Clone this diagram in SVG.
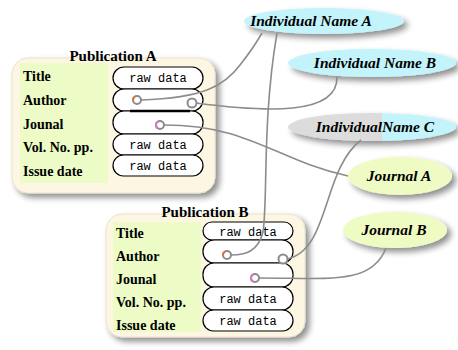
<svg xmlns="http://www.w3.org/2000/svg" width="458" height="350" viewBox="0 0 458 350">
<defs>
<filter id="sh" x="-20%" y="-20%" width="150%" height="160%">
<feGaussianBlur in="SourceAlpha" stdDeviation="3"/>
<feOffset dx="4" dy="4" result="b"/>
<feComponentTransfer><feFuncA type="linear" slope="0.45"/></feComponentTransfer>
<feMerge><feMergeNode/><feMergeNode in="SourceGraphic"/></feMerge>
</filter>
<linearGradient id="gc" x1="0" y1="0" x2="1" y2="0">
<stop offset="0.56" stop-color="#dcdcdc"/><stop offset="0.56" stop-color="#c4f4fb"/>
</linearGradient>
</defs>
<style>
.box{fill:#fdf6e2;stroke:#e9e2cc;stroke-width:1}
.lab{fill:#edfcc6}
.pill{fill:#fff;stroke:#000;stroke-width:1.2}
.lt{font-family:"Liberation Serif",serif;font-weight:bold;font-size:14px;fill:#000}
.tt{font-family:"Liberation Serif",serif;font-weight:bold;font-size:15px;fill:#000;text-anchor:middle}
.rd{font-family:"Liberation Mono",monospace;font-size:12px;fill:#000;text-anchor:middle}
.el{font-family:"Liberation Serif",serif;font-weight:bold;font-style:italic;font-size:15.5px;fill:#000;text-anchor:middle}
.cy{fill:#c4f4fb}
.gr{fill:#eefcc4}
.con{fill:none;stroke:#8c8c8c;stroke-width:1.6}
.dot{fill:#fff;stroke:#8c8c8c;stroke-width:2}
</style>
<g id="pubA">
<rect class="box" x="12" y="58" width="203" height="135" rx="16" filter="url(#sh)"/>
<rect class="lab" x="20" y="63" width="88" height="120"/>
<text class="tt" x="113" y="61">Publication A</text>
<text class="lt" x="23" y="81">Title</text>
<text class="lt" x="23" y="105">Author</text>
<text class="lt" x="23" y="129">Jounal</text>
<text class="lt" x="23" y="152">Vol. No. pp.</text>
<text class="lt" x="23" y="176">Issue date</text>
<rect class="pill" x="113" y="67" width="90" height="22" rx="11"/>
<rect class="pill" x="113" y="89" width="90" height="22" rx="11"/>
<rect class="pill" x="113" y="111" width="90" height="23" rx="11"/>
<rect class="pill" x="113" y="134" width="90" height="21" rx="10.5"/>
<rect class="pill" x="113" y="155" width="90" height="21" rx="10.5"/>
<line x1="130" y1="111" x2="190" y2="111" stroke="#000" stroke-width="2.5"/>
<text class="rd" x="158" y="82">raw data</text>
<text class="rd" x="158" y="149">raw data</text>
<text class="rd" x="158" y="170">raw data</text>
</g>
<g id="pubB">
<rect class="box" x="106" y="214" width="199" height="123" rx="16" filter="url(#sh)"/>
<rect class="lab" x="113" y="222" width="88" height="110"/>
<text class="tt" x="205" y="217">Publication B</text>
<text class="lt" x="116" y="238">Title</text>
<text class="lt" x="116" y="261">Author</text>
<text class="lt" x="116" y="284">Jounal</text>
<text class="lt" x="116" y="307">Vol. No. pp.</text>
<text class="lt" x="116" y="330">Issue date</text>
<rect class="pill" x="203" y="222" width="90" height="18" rx="9"/>
<rect class="pill" x="203" y="240" width="90" height="23" rx="11"/>
<rect class="pill" x="203" y="263" width="90" height="24" rx="11"/>
<rect class="pill" x="203" y="287" width="90" height="23" rx="11"/>
<rect class="pill" x="203" y="310" width="90" height="21" rx="10.5"/>
<text class="rd" x="248" y="236">raw data</text>
<text class="rd" x="248" y="303">raw data</text>
<text class="rd" x="248" y="325">raw data</text>
</g>
<g id="nameA"><ellipse class="cy" cx="324" cy="21" rx="80" ry="13" filter="url(#sh)"/><text class="el" x="311" y="26">Individual Name A</text></g>
<g id="nameB"><ellipse class="cy" cx="372" cy="63" rx="84" ry="14" filter="url(#sh)"/><text class="el" x="375" y="68">Individual Name B</text></g>
<g id="nameC"><ellipse cx="372" cy="127" rx="84" ry="14" fill="url(#gc)" filter="url(#sh)"/><text class="el" x="375" y="132">IndividualName C</text></g>
<g id="journalA"><ellipse class="gr" cx="400" cy="176" rx="52" ry="19" filter="url(#sh)"/><text class="el" x="399" y="181">Journal A</text></g>
<g id="journalB"><ellipse class="gr" cx="395" cy="230" rx="52" ry="18" filter="url(#sh)"/><text class="el" x="394" y="235">Journal B</text></g>
<g id="connectors">
<path class="con" d="M141,100 C205,98 225,85 240,65 C252,50 258,40 262,33"/>
<path class="con" d="M196,103 C265,112 338,116 337,77"/>
<path class="con" d="M164,125 C250,125 275,160 348,176"/>
<path class="con" d="M277,33 C262,120 268,200 263,232 C258,252 245,255 231,255"/>
<path class="con" d="M361,140 C322,170 330,250 287,259"/>
<path class="con" d="M386,248 C372,285 330,278 259,278"/>
</g>
<g id="dots">
<circle class="dot" cx="137" cy="100" r="4"/>
<path d="M133,100 A4,4 0 0 1 135,96.5" fill="none" stroke="#f06a20" stroke-width="2"/>
<circle class="dot" cx="192" cy="103" r="4.5"/>
<circle class="dot" cx="160" cy="125" r="4"/>
<path d="M156,125 A4,4 0 0 1 158,121.5 M156,125 A4,4 0 0 0 158,128.5" fill="none" stroke="#e070c0" stroke-width="2"/>
<circle class="dot" cx="227" cy="255" r="4"/>
<path d="M223,255 A4,4 0 0 1 225,251.5" fill="none" stroke="#f06a20" stroke-width="2"/>
<circle class="dot" cx="283" cy="259" r="4.5"/>
<circle class="dot" cx="255" cy="278" r="4"/>
<path d="M251,278 A4,4 0 0 1 253,274.5 M251,278 A4,4 0 0 0 253,281.5" fill="none" stroke="#e070c0" stroke-width="2"/>
</g>
</svg>
